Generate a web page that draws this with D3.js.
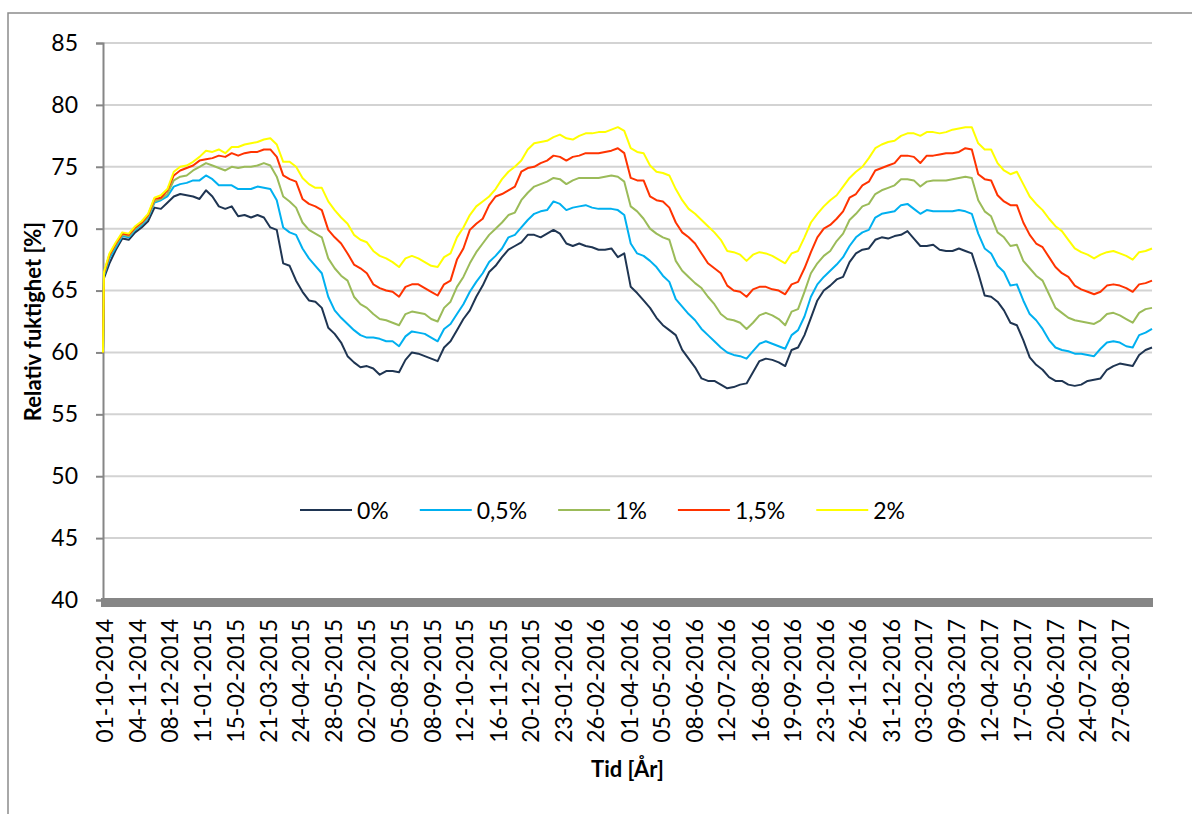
<!DOCTYPE html>
<html>
<head>
<meta charset="utf-8">
<script src="https://cdn.jsdelivr.net/npm/d3@7"></script>
<style>
  html, body { margin: 0; padding: 0; background: #ffffff; }
  svg { display: block; }
  text { font-family: Lato, "Open Sans", "Noto Sans", sans-serif; fill: #000; }
</style>
</head>
<body>
<svg id="chart" width="1192" height="814"></svg>
<script>
// Relative humidity [%] for five moisture additions, Oct 2014 – Oct 2017.
// Values: first reading, reading after one day, then 163 evenly spaced readings to the end of the period.
const seriesLabels = ["0%", "0,5%", "1%", "1,5%", "2%"];
const seriesColors = ["#1F3552", "#00B0F0", "#9BBB59", "#FF3300", "#FFFF00"];

const rh0 = [60.0, 66.0,
  67.2, 68.3, 69.2, 69.1, 69.7, 70.1, 70.6,
  71.7, 71.6, 72.1, 72.6, 72.8, 72.7, 72.6, 72.4, 73.1, 72.6, 71.8, 71.6, 71.8,
  71.0, 71.1, 70.9, 71.1, 70.9, 70.1, 69.9, 67.2, 67.0, 65.8,
  64.9, 64.2, 64.1, 63.6, 62.0, 61.5, 60.8, 59.7, 59.2, 58.8,
  58.9, 58.7, 58.2, 58.5, 58.5, 58.4, 59.4, 60.0, 59.9, 59.7,
  59.5, 59.3, 60.4, 60.9, 61.8, 62.7, 63.4, 64.5, 65.4, 66.5,
  67.0, 67.7, 68.3, 68.6, 68.9, 69.5, 69.5, 69.3, 69.6, 69.9,
  69.6, 68.8, 68.6, 68.8, 68.6, 68.5, 68.3, 68.3, 68.4, 67.7,
  68.0, 65.3, 64.8, 64.2, 63.6, 62.8, 62.2, 61.8, 61.4, 60.2,
  59.5, 58.8, 57.9, 57.7, 57.7, 57.4, 57.1, 57.2, 57.4, 57.5,
  58.4, 59.3, 59.5, 59.4, 59.2, 58.9, 60.2, 60.4, 61.4, 62.8,
  64.2, 65.0, 65.4, 65.9, 66.1, 67.3, 68.0, 68.3, 68.4, 69.1,
  69.3, 69.2, 69.4, 69.5, 69.8, 69.2, 68.6, 68.6, 68.7, 68.3,
  68.2, 68.2, 68.4, 68.2, 68.0, 66.4, 64.6, 64.5, 64.1, 63.4,
  62.4, 62.2, 61.0, 59.6, 59.0, 58.6, 58.0, 57.7, 57.7, 57.4,
  57.3, 57.4, 57.7, 57.8, 57.9, 58.6, 58.9, 59.1, 59.0, 58.9,
  59.8, 60.2, 60.4];

const rh05 = [60.0, 66.2,
  67.6, 68.5, 69.4, 69.3, 69.9, 70.3, 70.9,
  72.1, 72.3, 72.6, 73.4, 73.6, 73.7, 73.9, 73.9, 74.3, 74.0, 73.5, 73.5, 73.5,
  73.2, 73.2, 73.2, 73.4, 73.3, 73.2, 72.3, 70.1, 69.7, 69.5,
  68.4, 67.6, 67.0, 66.4, 64.5, 63.4, 62.8, 62.3, 61.8, 61.4,
  61.2, 61.2, 61.1, 60.9, 60.9, 60.5, 61.3, 61.7, 61.6, 61.5,
  61.2, 60.9, 61.9, 62.3, 63.1, 63.9, 64.9, 65.7, 66.4, 67.3,
  67.8, 68.4, 69.3, 69.5, 70.1, 70.7, 71.2, 71.4, 71.5, 72.2,
  72.0, 71.5, 71.7, 71.8, 71.9, 71.7, 71.6, 71.6, 71.6, 71.5,
  71.1, 68.8, 68.0, 67.8, 67.4, 66.9, 66.2, 65.7, 64.3, 63.7,
  63.1, 62.6, 61.9, 61.4, 60.9, 60.4, 60.0, 59.8, 59.7, 59.5,
  60.1, 60.7, 60.9, 60.7, 60.5, 60.3, 61.4, 61.8, 62.9, 64.5,
  65.5, 66.1, 66.6, 67.1, 67.7, 68.6, 69.3, 69.7, 69.9, 70.9,
  71.2, 71.3, 71.4, 71.9, 72.0, 71.6, 71.2, 71.5, 71.4, 71.4,
  71.4, 71.4, 71.5, 71.4, 71.2, 69.6, 68.4, 68.0, 67.0, 66.5,
  65.4, 65.5, 64.2, 63.1, 62.6, 61.9, 61.0, 60.4, 60.2, 60.1,
  59.9, 59.9, 59.8, 59.7, 60.3, 60.8, 60.9, 60.8, 60.5, 60.4,
  61.4, 61.6, 61.9];

const rh1 = [60.0, 66.3,
  67.8, 68.7, 69.5, 69.4, 70.0, 70.4, 71.0,
  72.2, 72.4, 72.8, 73.9, 74.2, 74.3, 74.7, 75.0, 75.3, 75.1, 74.9, 74.7, 75.0,
  74.9, 75.0, 75.0, 75.1, 75.3, 75.1, 74.2, 72.6, 72.2, 71.7,
  70.5, 69.9, 69.6, 69.3, 67.6, 66.8, 66.2, 65.8, 64.5, 63.9,
  63.6, 63.1, 62.7, 62.6, 62.4, 62.2, 63.1, 63.3, 63.2, 63.1,
  62.7, 62.5, 63.6, 64.1, 65.3, 66.1, 67.2, 68.1, 68.8, 69.5,
  70.0, 70.5, 71.1, 71.3, 72.3, 72.9, 73.4, 73.6, 73.8, 74.1,
  74.0, 73.6, 73.9, 74.1, 74.1, 74.1, 74.1, 74.2, 74.3, 74.2,
  73.8, 71.8, 71.4, 70.8, 70.0, 69.6, 69.3, 69.1, 67.4, 66.6,
  66.1, 65.6, 65.2, 64.5, 63.9, 63.1, 62.7, 62.6, 62.4, 61.9,
  62.4, 63.0, 63.2, 63.0, 62.7, 62.2, 63.3, 63.5, 64.9, 66.4,
  67.2, 67.8, 68.2, 69.0, 69.6, 70.7, 71.2, 71.8, 72.0, 72.8,
  73.1, 73.3, 73.5, 74.0, 74.0, 73.9, 73.4, 73.8, 73.9, 73.9,
  73.9, 74.0, 74.1, 74.2, 74.1, 72.3, 71.4, 71.0, 69.7, 69.3,
  68.6, 68.7, 67.4, 66.8, 66.2, 65.8, 64.7, 63.6, 63.2, 62.8,
  62.6, 62.5, 62.4, 62.3, 62.6, 63.1, 63.2, 63.0, 62.7, 62.4,
  63.2, 63.5, 63.6];

const rh15 = [60.0, 66.4,
  67.9, 68.8, 69.6, 69.5, 70.1, 70.5, 71.1,
  72.4, 72.5, 73.1, 74.3, 74.7, 74.9, 75.1, 75.5, 75.6, 75.7, 75.9, 75.8, 76.1,
  75.9, 76.1, 76.2, 76.2, 76.4, 76.4, 75.8, 74.3, 74.0, 73.8,
  72.4, 72.0, 71.8, 71.5, 69.9, 69.3, 68.8, 68.0, 67.1, 66.8,
  66.4, 65.5, 65.2, 65.0, 64.9, 64.5, 65.3, 65.5, 65.5, 65.2,
  64.9, 64.6, 65.5, 65.8, 67.5, 68.4, 69.9, 70.4, 70.8, 71.9,
  72.6, 72.8, 73.1, 73.4, 74.6, 74.9, 75.0, 75.3, 75.5, 75.9,
  75.8, 75.5, 75.8, 75.9, 76.1, 76.1, 76.1, 76.2, 76.3, 76.5,
  76.1, 74.1, 73.9, 73.9, 72.6, 72.3, 72.2, 71.7, 70.5, 69.7,
  69.3, 68.8, 68.0, 67.2, 66.8, 66.4, 65.4, 65.0, 64.9, 64.5,
  65.1, 65.3, 65.3, 65.1, 65.0, 64.7, 65.5, 65.7, 66.8, 68.1,
  69.3, 70.0, 70.3, 70.8, 71.4, 72.5, 72.8, 73.5, 73.8, 74.7,
  74.9, 75.1, 75.3, 75.9, 75.9, 75.8, 75.3, 75.9, 75.9, 76.0,
  76.1, 76.1, 76.2, 76.5, 76.4, 74.4, 74.0, 73.9, 72.7, 72.2,
  71.9, 71.9, 70.5, 69.5, 68.8, 68.5, 67.7, 66.9, 66.4, 66.1,
  65.4, 65.1, 64.9, 64.7, 64.9, 65.4, 65.5, 65.4, 65.2, 64.9,
  65.5, 65.6, 65.8];

const rh2 = [60.0, 66.5,
  68.0, 68.9, 69.7, 69.6, 70.2, 70.6, 71.2,
  72.5, 72.7, 73.2, 74.6, 75.0, 75.1, 75.4, 75.8, 76.3, 76.2, 76.4, 76.1, 76.6,
  76.6, 76.8, 76.9, 77.0, 77.2, 77.3, 76.8, 75.4, 75.4, 75.0,
  74.1, 73.6, 73.3, 73.3, 72.2, 71.5, 70.9, 70.4, 69.5, 69.1,
  68.9, 68.2, 67.8, 67.6, 67.3, 66.9, 67.6, 67.8, 67.6, 67.3,
  67.0, 66.9, 67.7, 68.0, 69.3, 70.1, 71.1, 71.8, 72.2, 72.6,
  73.2, 74.0, 74.6, 75.0, 75.5, 76.4, 76.9, 77.0, 77.1, 77.4,
  77.6, 77.3, 77.2, 77.5, 77.7, 77.7, 77.8, 77.8, 78.0, 78.2,
  77.9, 76.5, 76.2, 76.1, 75.1, 74.6, 74.5, 74.3, 73.2, 72.3,
  71.6, 71.2, 70.7, 70.2, 69.7, 69.1, 68.2, 68.1, 67.9, 67.4,
  67.9, 68.1, 68.0, 67.8, 67.5, 67.2, 68.0, 68.2, 69.3, 70.5,
  71.2, 71.8, 72.3, 72.7, 73.4, 74.1, 74.6, 75.0, 75.7, 76.5,
  76.8, 77.0, 77.1, 77.5, 77.7, 77.7, 77.5, 77.8, 77.8, 77.7,
  77.8, 78.0, 78.1, 78.2, 78.2, 76.9, 76.4, 76.4, 75.3, 74.7,
  74.4, 74.6, 73.6, 72.6, 72.0, 71.5, 70.8, 70.2, 69.8, 69.1,
  68.4, 68.1, 67.9, 67.6, 67.9, 68.1, 68.2, 68.0, 67.8, 67.5,
  68.1, 68.2, 68.4];

const seriesValues = [rh0, rh05, rh1, rh15, rh2];

const xTickLabels = [
  "01-10-2014", "04-11-2014", "08-12-2014", "11-01-2015", "15-02-2015", "21-03-2015",
  "24-04-2015", "28-05-2015", "02-07-2015", "05-08-2015", "08-09-2015", "12-10-2015",
  "16-11-2015", "20-12-2015", "23-01-2016", "26-02-2016", "01-04-2016", "05-05-2016",
  "08-06-2016", "12-07-2016", "16-08-2016", "19-09-2016", "23-10-2016", "26-11-2016",
  "31-12-2016", "03-02-2017", "09-03-2017", "12-04-2017", "17-05-2017", "20-06-2017",
  "24-07-2017", "27-08-2017"];
const yTicks = [40, 45, 50, 55, 60, 65, 70, 75, 80, 85];

const periodStart = "01-10-2014";
const periodEnd = "01-10-2017";

// ---------------------------------------------------------------
const parseDay = d3.utcParse("%d-%m-%Y");
const fmtDay = d3.utcFormat("%d-%m-%Y");
const t0 = parseDay(periodStart), t1 = parseDay(periodEnd);
const nRegular = rh0.length - 2;                       // evenly spaced readings
const sampleDates = [t0, d3.utcDay.offset(t0, 1)].concat(
  d3.range(1, nRegular + 1).map(k => new Date(+t0 + k * (t1 - t0) / nRegular)));

const plot = { left: 103, right: 1152, top: 43, bottom: 600 };
const x = d3.scaleUtc().domain([t0, t1]).range([plot.left, plot.right]);
const y = d3.scaleLinear().domain([40, 85]).range([plot.bottom, plot.top]);

const svg = d3.select("#chart");
const axisGrey = "#868686";

// outer frame (top and left edges)
svg.append("path")
  .attr("d", "M8,814 L8,13 L1192,13")
  .attr("fill", "none").attr("stroke", "#8c8c8c").attr("stroke-width", 1.5);

// horizontal gridlines
svg.append("g").selectAll("line")
  .data(yTicks.filter(v => v > 40))
  .join("line")
  .attr("x1", plot.left).attr("x2", plot.right)
  .attr("y1", d => y(d)).attr("y2", d => y(d))
  .attr("stroke", "#d3d3d3").attr("stroke-width", 2);

// y axis
const yAxis = svg.append("g")
  .attr("transform", `translate(${plot.left},0)`)
  .call(d3.axisLeft(y).tickValues(yTicks).tickSize(7).tickPadding(18));
yAxis.select(".domain").attr("stroke", axisGrey).attr("stroke-width", 2);
yAxis.selectAll(".tick line").attr("stroke", axisGrey).attr("stroke-width", 2);
yAxis.selectAll(".tick text")
  .style("font-family", "Lato, 'Open Sans', sans-serif")
  .style("font-size", "23px").attr("fill", "#000");

// data lines
const line = d3.line()
  .x((d, i) => x(sampleDates[i]))
  .y(d => y(d));

svg.append("g").selectAll("path")
  .data(seriesValues)
  .join("path")
  .attr("d", d => line(d))
  .attr("fill", "none")
  .attr("stroke", (d, i) => seriesColors[i])
  .attr("stroke-width", 2)
  .attr("stroke-linejoin", "round");

// x axis: thick bar at the bottom of the plot
svg.append("rect")
  .attr("x", plot.left - 2).attr("y", y(40) - 2)
  .attr("width", plot.right - plot.left + 3).attr("height", 9)
  .attr("fill", axisGrey);

const xAxis = svg.append("g")
  .attr("transform", `translate(0,${y(40) + 7})`)
  .call(d3.axisBottom(x).tickValues(xTickLabels.map(parseDay)).tickSize(0).tickFormat(fmtDay));
xAxis.select(".domain").remove();
xAxis.selectAll(".tick text")
  .attr("transform", "rotate(-90)")
  .attr("x", -12).attr("y", 0).attr("dy", "0.42em")
  .style("text-anchor", "end")
  .style("font-family", "Lato, 'Open Sans', sans-serif")
  .style("font-size", "23px").attr("fill", "#000");

// axis titles
svg.append("text")
  .attr("transform", `translate(32,${(plot.top + plot.bottom) / 2}) rotate(-90)`)
  .attr("text-anchor", "middle").attr("dominant-baseline", "central")
  .style("font-size", "22px").style("font-weight", "bold")
  .text("Relativ fuktighet [%]");

svg.append("text")
  .attr("x", (plot.left + plot.right) / 2).attr("y", 768)
  .attr("text-anchor", "middle").attr("dominant-baseline", "central")
  .style("font-size", "22px").style("font-weight", "bold")
  .text("Tid [År]");

// legend
const legend = svg.append("g").attr("transform", "translate(300,510)");
let cursor = 0;
seriesLabels.forEach((name, i) => {
  const g = legend.append("g").attr("transform", `translate(${cursor},0)`);
  g.append("line").attr("x1", 0).attr("x2", 52).attr("y1", 0).attr("y2", 0)
    .attr("stroke", seriesColors[i]).attr("stroke-width", 2);
  const t = g.append("text").attr("x", 57).attr("y", 0)
    .attr("dominant-baseline", "central")
    .style("font-size", "23px").text(name);
  cursor += 57 + t.node().getComputedTextLength() + 31;
});
</script>
</body>
</html>
